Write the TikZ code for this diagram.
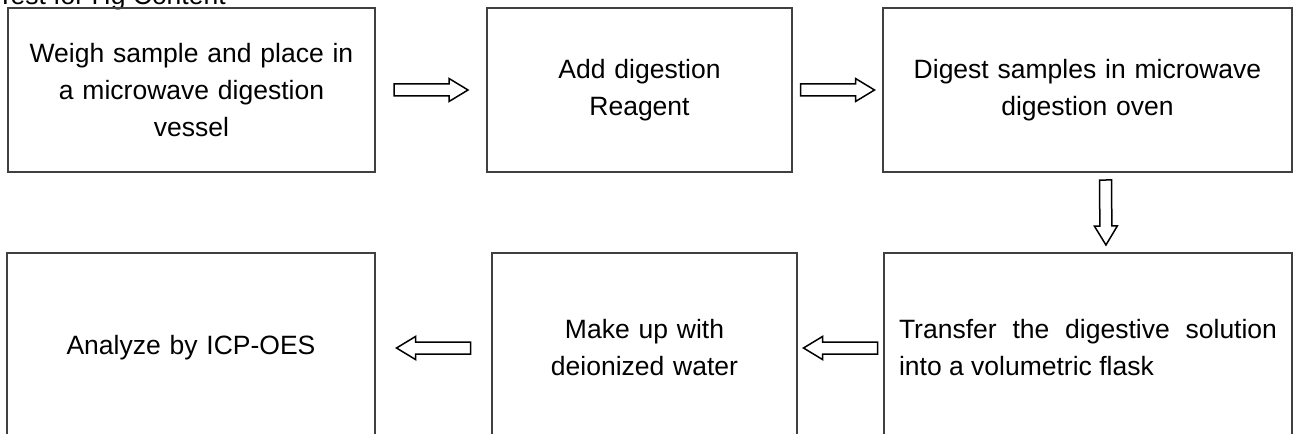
\documentclass[tikz,border=0pt]{standalone}
\usepackage{fontspec}
\setmainfont{Liberation Sans}
\usetikzlibrary{calc}
\definecolor{boxgray}{RGB}{64, 64, 64}

\begin{document}
\begin{tikzpicture}[x=0.5pt, y=-0.5pt,
    every node/.style={font=\fontsize{13.25pt}{18.5pt}\selectfont},
    stepbox/.style={draw=boxgray, line width=0.6pt, inner sep=0pt, align=center, minimum height=#1},
    stepbox/.default=82pt,
    % hollow block arrow, centred between the two ends, #1 = half length
    blockarrow/.style={draw=black, fill=white, line width=0.75pt,
        to path={
            coordinate (ba-m) at ($(\tikztostart)!0.5!(\tikztotarget)$)
            coordinate (ba-s) at ($(ba-m)!#1!(\tikztostart)$)
            coordinate (ba-t) at ($(ba-m)!#1!(\tikztotarget)$)
            coordinate (ba-h) at ($(ba-t)!9.5pt!(ba-s)$)
            ($(ba-s)!3pt!90:(ba-t)$) -- ($(ba-h)!3pt!-90:(ba-s)$) -- ($(ba-h)!5.75pt!-90:(ba-s)$)
            -- (ba-t) -- ($(ba-h)!5.75pt!90:(ba-s)$) -- ($(ba-h)!3pt!90:(ba-s)$)
            -- ($(ba-s)!3pt!-90:(ba-t)$) -- cycle}},
    blockarrow/.default=18.5pt]
    \useasboundingbox (0,0) rectangle (1293,433);

    \node[anchor=base west, inner sep=0pt] (title) at (-3,5) {Test for Hg Content};

    % top row
    \node[stepbox, text width=183.5pt] (W) at (191.5,90) {Weigh sample and place in\\a microwave digestion\\vessel};
    \node[stepbox, text width=152.5pt] (R) at (639.5,90) {Add digestion\\Reagent};
    \node[stepbox, text width=204.5pt] (D) at (1087.5,90) {Digest samples in microwave\\digestion oven};

    % bottom row
    \node[stepbox=95pt, text width=184pt] (I) at (191,348) {Analyze by ICP-OES};
    \node[stepbox=95pt, text width=152.5pt] (M) at (644.5,348) {Make up with\\deionized water};
    \node[stepbox=95pt, text width=189pt, inner xsep=7.5pt, align=justify] (T) at (1088,348)
        {Transfer the digestive solution into a volumetric flask};

    \draw[blockarrow] (W.east) to (R.west);
    \draw[blockarrow] (R.east) to (D.west);
    \draw[blockarrow=16.25pt] ([xshift=9pt]D.south) to ([xshift=9pt]T.north);
    \draw[blockarrow] (T.west) to (M.east);
    \draw[blockarrow] (M.west) to (I.east);
\end{tikzpicture}
\end{document}
